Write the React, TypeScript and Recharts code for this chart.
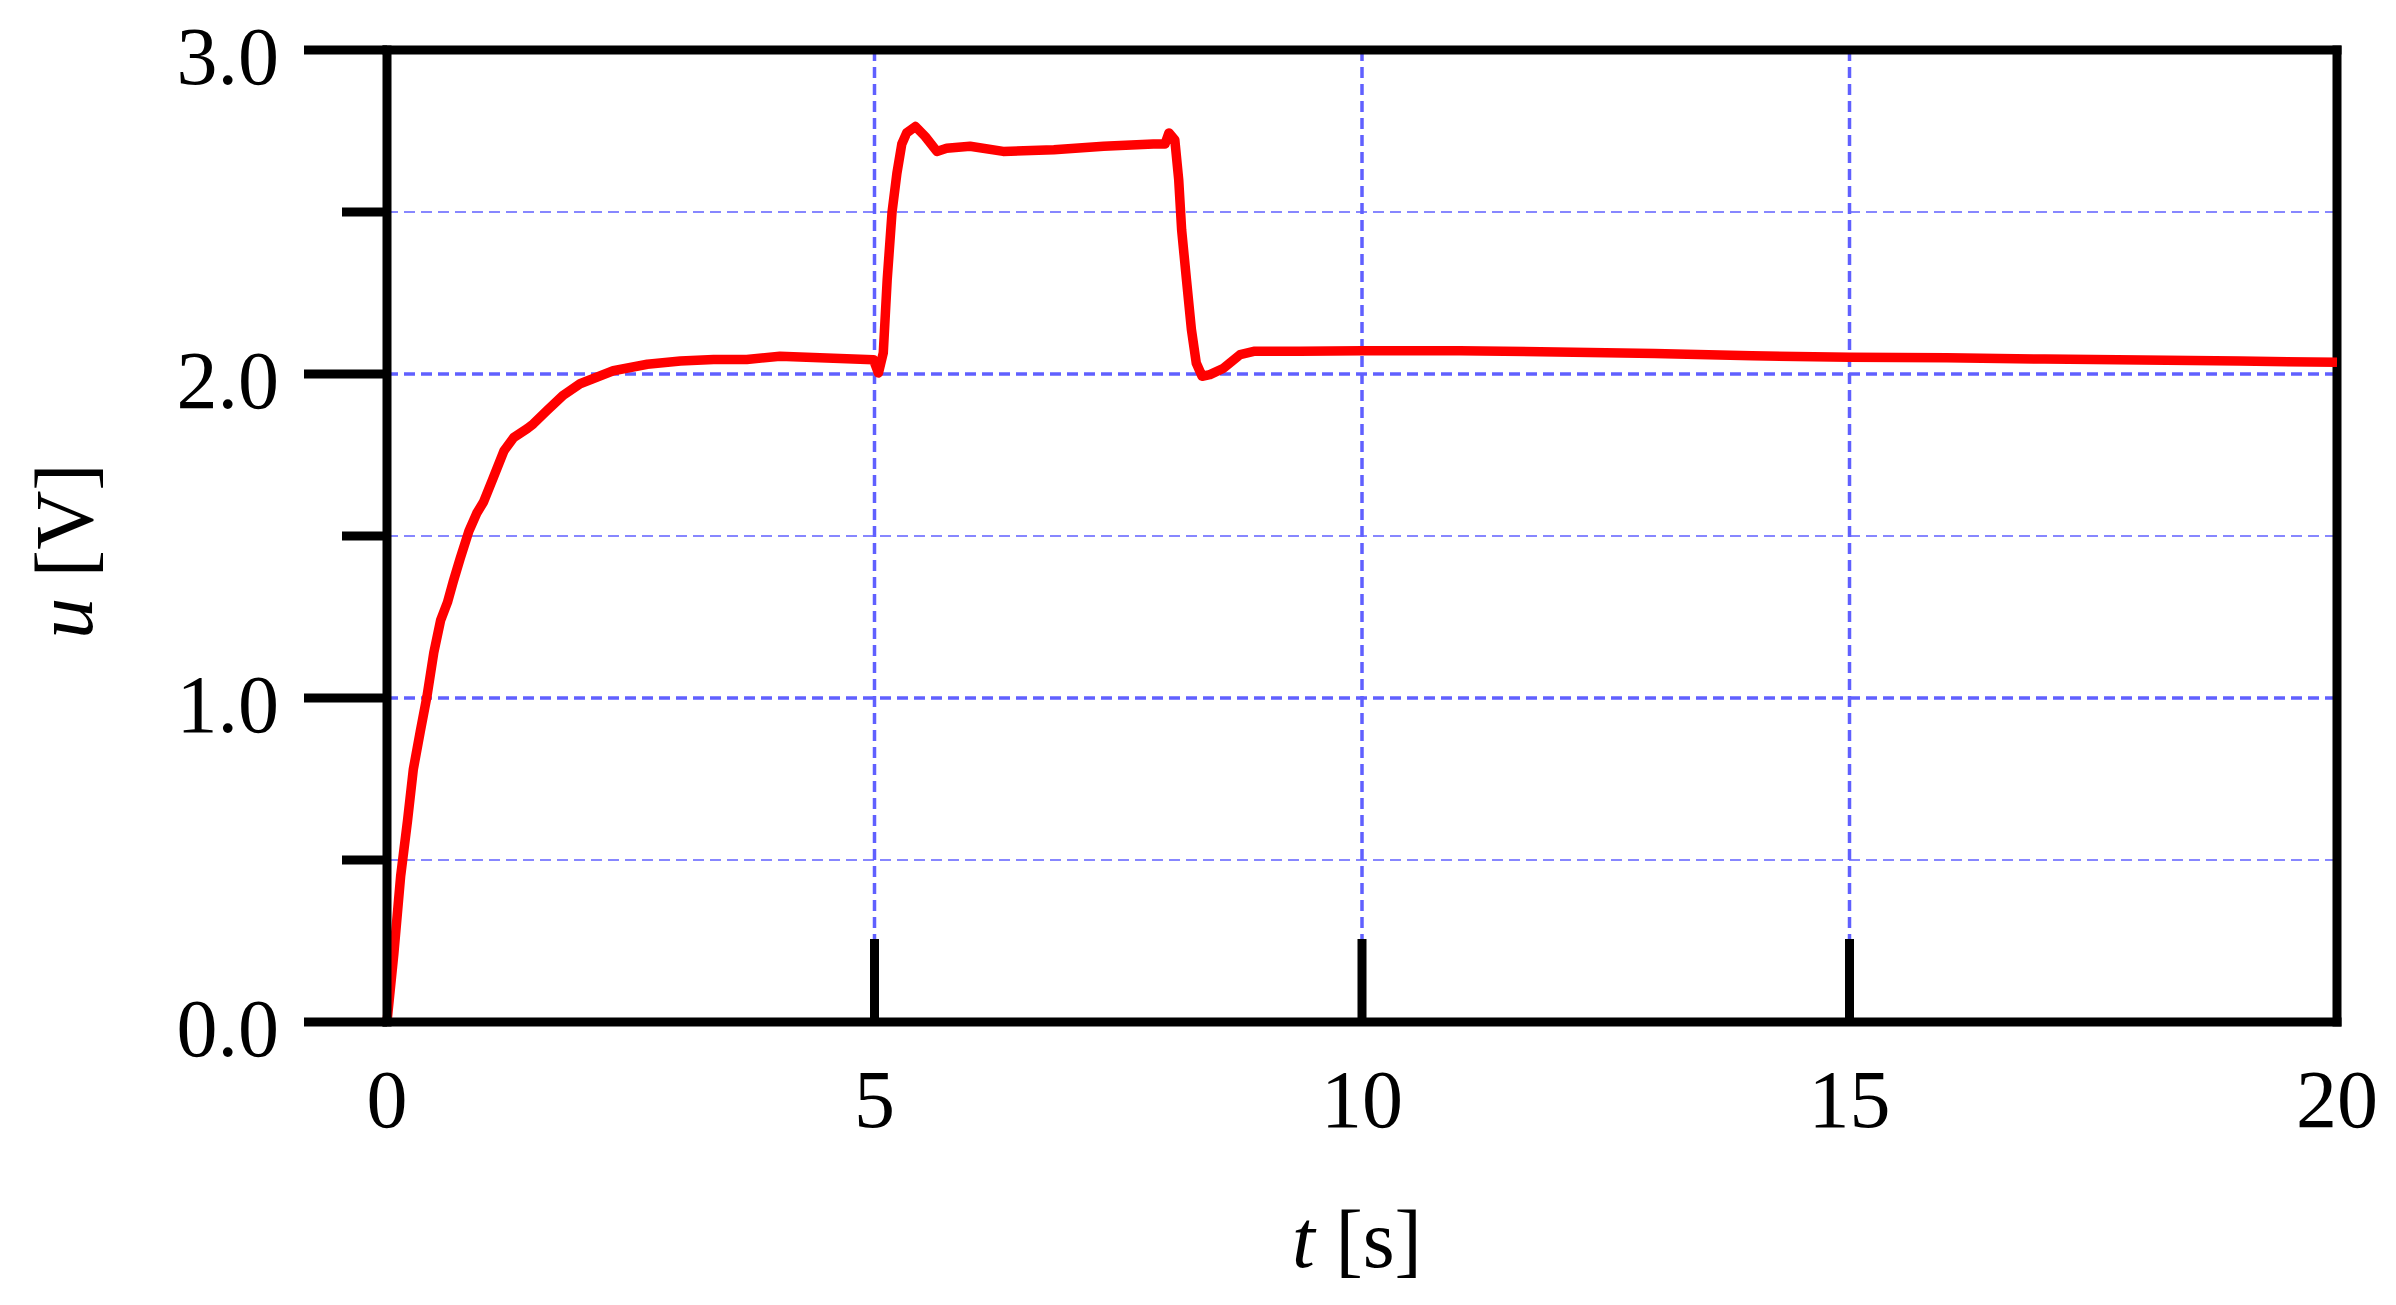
import React from 'react';
import {
  LineChart,
  Line,
  XAxis,
  YAxis,
  CartesianGrid,
  ReferenceLine,
} from 'recharts';

// time [s]
const tValues = [
  0, 0.07, 0.14, 0.21, 0.27, 0.34, 0.41, 0.48, 0.55, 0.62, 0.68, 0.75, 0.84, 0.92, 0.99,
  1.09, 1.2, 1.3, 1.44, 1.5, 1.64, 1.81, 1.98, 2.15, 2.32, 2.67, 3.01, 3.35, 3.69, 4.03,
  4.44, 4.99, 5.04, 5.09, 5.13, 5.18, 5.23, 5.28, 5.33, 5.42, 5.52, 5.64, 5.74, 5.98,
  6.32, 6.84, 7.35, 7.86, 7.98, 8.02, 8.08, 8.12, 8.15, 8.2, 8.25, 8.3, 8.36, 8.44,
  8.58, 8.75, 8.89, 9.36, 10, 11, 12, 13, 14, 15, 16, 17, 18, 19, 20,
];

// voltage [V]
const uValues = [
  0, 0.21, 0.45, 0.62, 0.78, 0.895, 1.005, 1.14, 1.24, 1.295, 1.36, 1.43, 1.515, 1.57, 1.605,
  1.68, 1.763, 1.804, 1.832, 1.846, 1.887, 1.935, 1.97, 1.99, 2.01, 2.03, 2.04, 2.045, 2.045, 2.055,
  2.05, 2.044, 2.003, 2.065, 2.29, 2.5, 2.62, 2.71, 2.744, 2.764, 2.733, 2.687, 2.697, 2.703,
  2.687, 2.692, 2.703, 2.71, 2.71, 2.744, 2.723, 2.6, 2.445, 2.29, 2.138, 2.034, 1.993, 1.998,
  2.018, 2.06, 2.07, 2.07, 2.072, 2.072, 2.068, 2.063, 2.056, 2.052, 2.05, 2.046, 2.043, 2.04, 2.036,
];

const xTicks = [0, 5, 10, 15, 20];
const yTicks = [0, 0.5, 1, 1.5, 2, 2.5, 3];
const yMinorGrid = [0.5, 1.5, 2.5];
const yMajorGrid = [1, 2];
const xMajorGrid = [5, 10, 15];

const data = tValues.map((t, i) => ({ t, u: uValues[i] }));

const FONT = '"Liberation Serif", "Times New Roman", serif';
const GRID = '#6060ff';

function YTick({ x, y, payload }: any) {
  const v = payload.value as number;
  const major = Number.isInteger(v);
  return (
    <g>
      <line x1={x - (major ? 83 : 45)} x2={x} y1={y} y2={y} stroke="#000" strokeWidth={9} />
      {major && (
        <text x={x - 108} y={y + 34} textAnchor="end" fontFamily={FONT} fontSize={82} fill="#000">
          {v.toFixed(1)}
        </text>
      )}
    </g>
  );
}

function XTick({ x, y, payload }: any) {
  // inner ticks only between the box edges
  const inner = xMajorGrid.includes(payload.value);
  return (
    <g>
      {inner && <line x1={x} x2={x} y1={y - 83} y2={y + 4} stroke="#000" strokeWidth={9} />}
      <text x={x} y={y + 105} textAnchor="middle" fontFamily={FONT} fontSize={82} fill="#000">
        {payload.value}
      </text>
    </g>
  );
}

function XTitle({ viewBox }: any) {
  const cx = viewBox.x + viewBox.width / 2 - 5;
  return (
    <text x={cx} y={viewBox.y + 245} textAnchor="middle" fontFamily={FONT} fontSize={82} fill="#000">
      <tspan fontStyle="italic">t</tspan>
      <tspan> [s]</tspan>
    </text>
  );
}

function YTitle() {
  return (
    <text
      x={92}
      y={551}
      transform="rotate(-90 92 551)"
      textAnchor="middle"
      fontFamily={FONT}
      fontSize={82}
      fill="#000"
    >
      <tspan fontStyle="italic">u</tspan>
      <tspan> [V]</tspan>
    </text>
  );
}

export default function App() {
  return (
    <div style={{ position: 'absolute', left: 0, top: 0, width: 2396, height: 1305, background: '#fff' }}>
      <LineChart
        width={2396}
        height={1305}
        data={data}
        margin={{ top: 50, right: 59, left: 0, bottom: 0 }}
      >
        <CartesianGrid
          horizontalValues={yMinorGrid}
          vertical={false}
          stroke={GRID}
          strokeWidth={1.5}
          strokeDasharray="11 6"
        />
        <CartesianGrid
          horizontalValues={yMajorGrid}
          verticalValues={xMajorGrid}
          stroke={GRID}
          strokeWidth={3.5}
          strokeDasharray="11 6"
        />
        <XAxis
          dataKey="t"
          type="number"
          domain={[0, 20]}
          ticks={xTicks}
          height={283}
          tickSize={0}
          tickMargin={0}
          tickLine={false}
          axisLine={{ stroke: '#000', strokeWidth: 9, strokeLinecap: 'square' }}
          tick={<XTick />}
          interval={0}
          label={<XTitle />}
        />
        <YAxis
          type="number"
          domain={[0, 3]}
          ticks={yTicks}
          width={387}
          tickSize={0}
          tickMargin={0}
          tickLine={false}
          axisLine={{ stroke: '#000', strokeWidth: 9, strokeLinecap: 'square' }}
          tick={<YTick />}
          interval={0}
          label={<YTitle />}
        />
        <ReferenceLine y={3} stroke="#000" strokeWidth={9} strokeLinecap="square" />
        <ReferenceLine x={20} stroke="#000" strokeWidth={9} strokeLinecap="square" />
        <Line
          type="linear"
          dataKey="u"
          stroke="#ff0000"
          strokeWidth={9.5}
          strokeLinejoin="round"
          dot={false}
          isAnimationActive={false}
        />
      </LineChart>
    </div>
  );
}
